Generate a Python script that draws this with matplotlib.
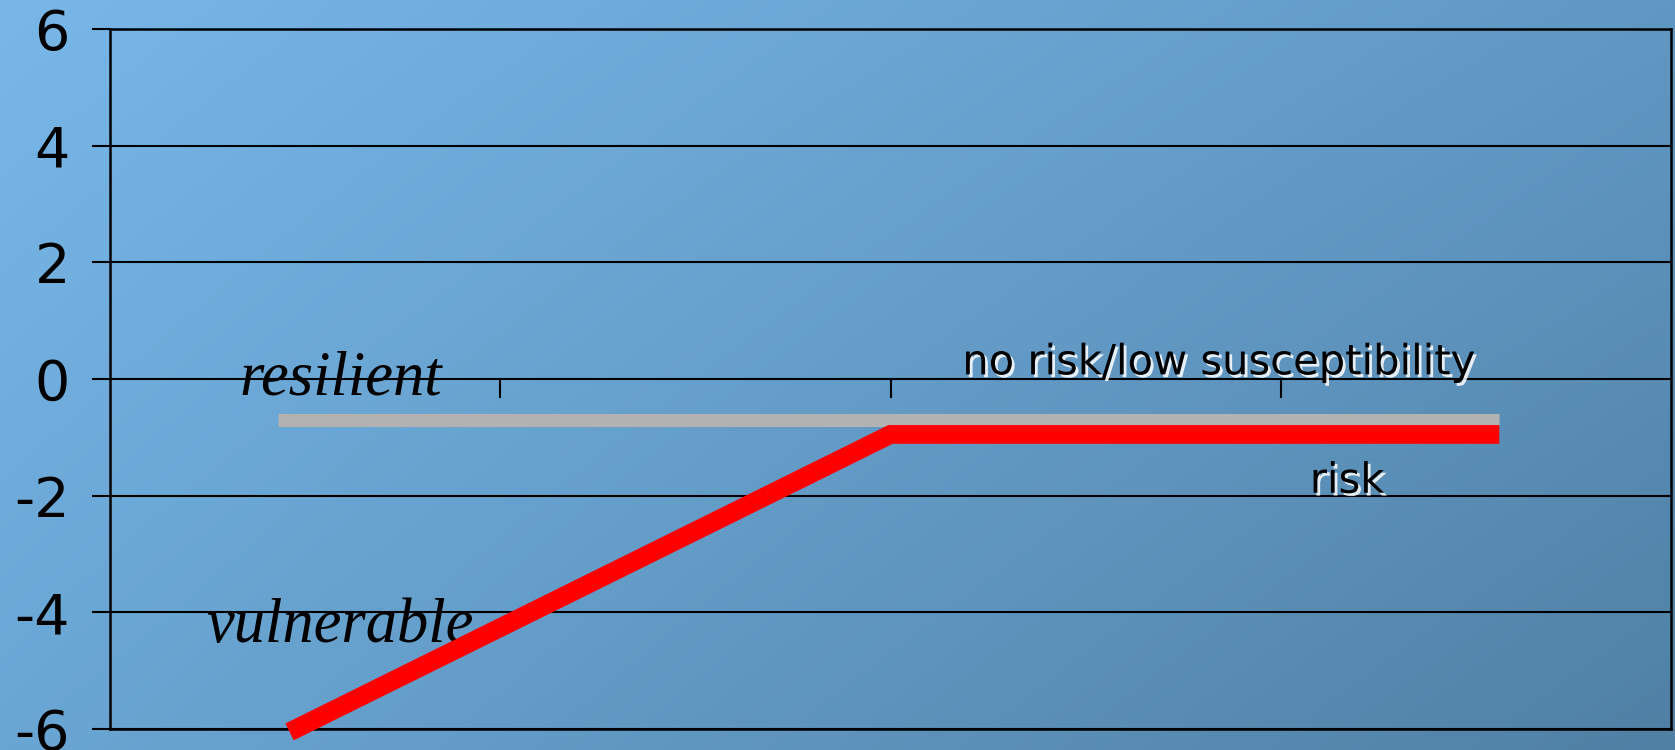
import matplotlib.pyplot as plt
import matplotlib.patheffects as pe
import numpy as np

# данные линий (ось X: 4 категории, границы 0..4)
gray_x = [0.43, 3.56]
gray_y = [-0.7, -0.7]
red_x = [0.46, 2.0, 3.56]
red_y = [-6.05, -0.95, -0.95]
y_ticks = [-6, -4, -2, 0, 2, 4, 6]
x_ticks = [1, 2, 3]

fig = plt.figure(figsize=(16.75, 7.5), dpi=100)

# фон - диагональный градиент
bg = fig.add_axes([0, 0, 1, 1], zorder=-10)
tl = np.array([120, 183, 232]) / 255
tr = np.array([96, 152, 196]) / 255
bl = np.array([106, 166, 212]) / 255
br = np.array([80, 128, 164]) / 255
u = np.linspace(0, 1, 200)[None, :, None]
v = np.linspace(0, 1, 100)[:, None, None]
img = (1 - v) * ((1 - u) * tl + u * tr) + v * ((1 - u) * bl + u * br)
bg.imshow(img, aspect='auto', extent=[0, 1, 0, 1], interpolation='bilinear')
bg.axis('off')

ax = fig.add_axes([0.0657, 0.028, 0.9319, 0.9333])
ax.patch.set_alpha(0)
ax.set_xlim(0, 4)
ax.set_ylim(-6, 6)

ax.set_yticks(y_ticks)
ax.set_yticklabels([str(t) for t in y_ticks])
ax.yaxis.grid(True, color='black', linewidth=1.5)
ax.set_axisbelow(True)
ax.tick_params(axis='y', length=13, width=1.5, pad=16, labelsize=40, direction='out')

# ось X проходит через 0, метки между категориями
ax.set_xticks(x_ticks)
ax.set_xticklabels([])
ax.xaxis.set_ticks_position('none')
for xt in x_ticks:
    ax.plot([xt, xt], [0, -0.3], color='black', linewidth=1.5, zorder=2)

for s in ax.spines.values():
    s.set_linewidth(1.8)
    s.set_color('black')

ax.plot(gray_x, gray_y, color='#b2b2b2', linewidth=9.4, solid_capstyle='butt', zorder=3)
ax.plot(red_x, red_y, color='#ff0000', linewidth=13.5, solid_capstyle='butt',
        solid_joinstyle='miter', zorder=4, clip_on=False)

serif_it = dict(family='Liberation Serif', style='italic', fontsize=45, ha='center', va='baseline')
ax.text(0.59, -0.26, 'resilient', **serif_it)
ax.text(0.59, -4.5, 'vulnerable', **serif_it)

shadow = [pe.SimplePatchShadow(offset=(2, -2), shadow_rgbFace='white', alpha=0.85), pe.Normal()]
ax.text(2.84, 0.08, 'no risk/low susceptibility', fontsize=30, ha='center', va='baseline',
        path_effects=shadow)
ax.text(3.17, -1.95, 'risk', fontsize=30, ha='center', va='baseline', path_effects=shadow)

fig.savefig('out.png', dpi=100)
plt.close()
